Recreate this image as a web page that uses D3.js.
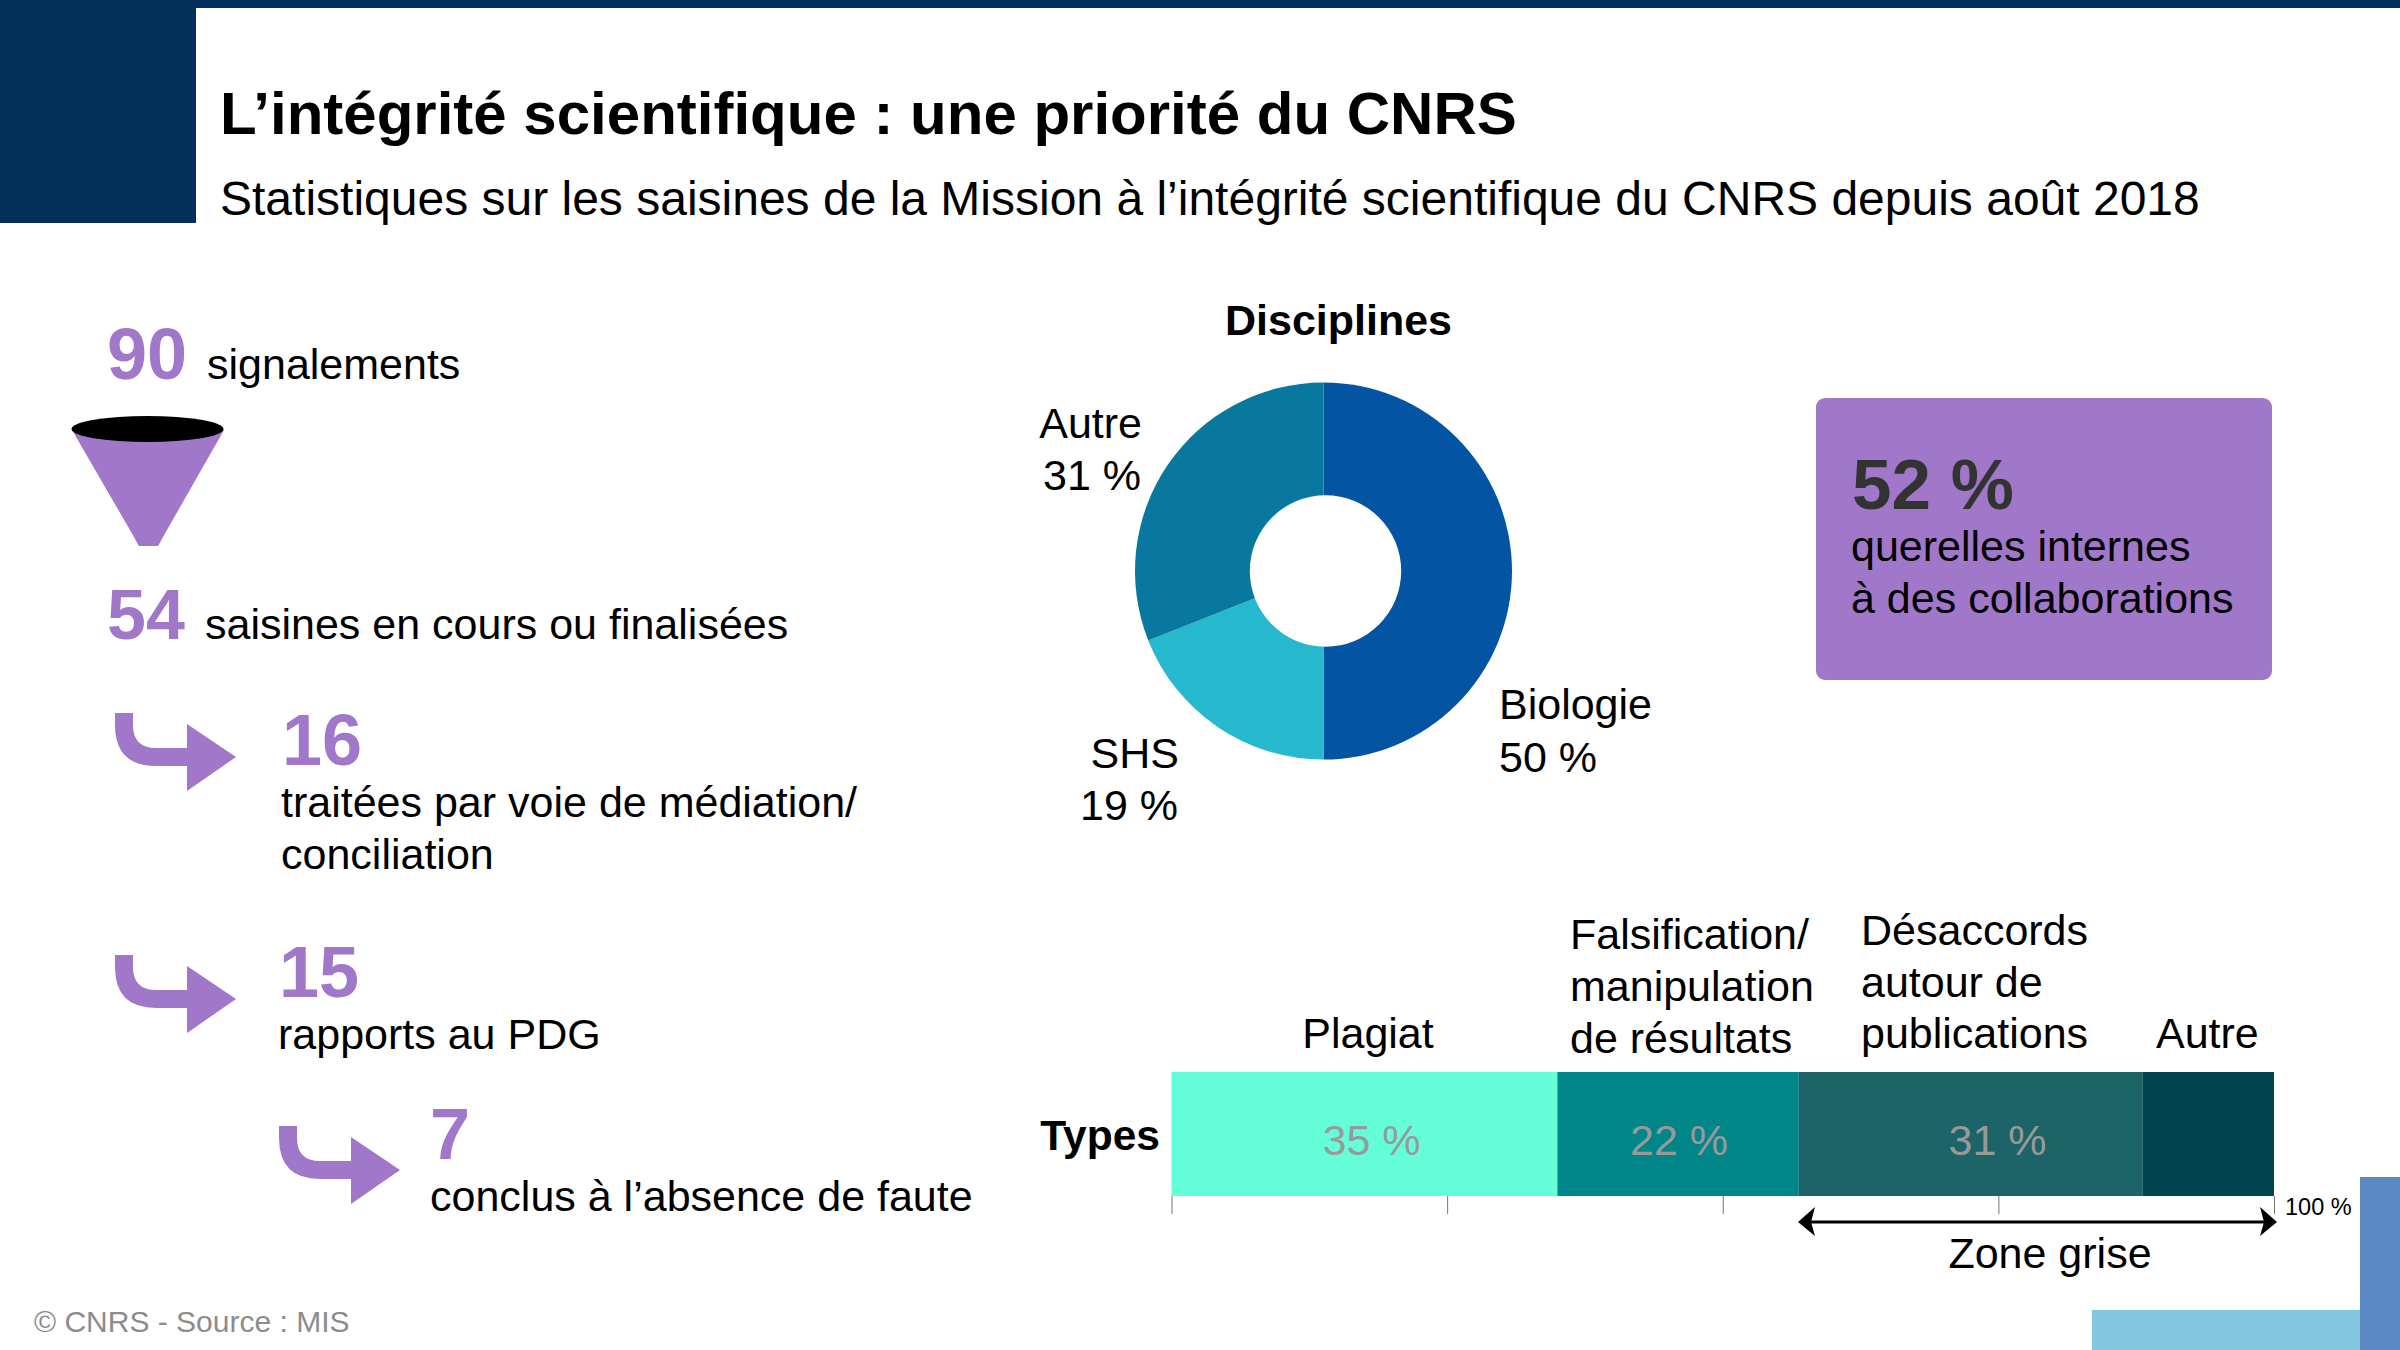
<!DOCTYPE html>
<html>
<head>
<meta charset="utf-8">
<script src="https://cdn.jsdelivr.net/npm/d3@7"></script>
<style>
  html, body { margin: 0; padding: 0; background: #fff; }
  text { font-family: "Liberation Sans", Arial, sans-serif; }
</style>
</head>
<body>
<div id="chart"></div>
<script>
const titleText = "L’intégrité scientifique : une priorité du CNRS";
const subtitleText = "Statistiques sur les saisines de la Mission à l’intégrité scientifique du CNRS depuis août 2018";
const sourceText = "© CNRS - Source : MIS";

const disciplineNames = ["Biologie", "SHS", "Autre"];
const disciplineValues = [50, 19, 31];
const disciplineColors = ["#0355a3", "#26b8cc", "#08789f"];

const typeNames = ["Plagiat", "Falsification", "Désaccords", "Autre"];
const typeValues = [35, 21.9, 31.2, 11.9];
const typeColors = ["#64ffd8", "#008588", "#1c6468", "#024450"];
const axisTicks = [0, 25, 50, 75, 100];

const purple = "#a077c9";
const navy = "#03305a";

const width = 2400, height = 1350;

const svg = d3.select("#chart").append("svg")
    .attr("width", width)
    .attr("height", height)
    .style("display", "block");

// writes one line of text
function put(str, x, y, size, opts) {
  opts = opts || {};
  return svg.append("text")
      .attr("x", x)
      .attr("y", y)
      .attr("font-size", size)
      .attr("font-weight", opts.bold ? "bold" : "normal")
      .attr("text-anchor", opts.anchor || "start")
      .attr("fill", opts.fill || "#000")
      .text(str);
}

// header
svg.append("rect").attr("x", 196).attr("y", 0).attr("width", 2204).attr("height", 8).attr("fill", navy);
svg.append("rect").attr("x", 0).attr("y", 0).attr("width", 196).attr("height", 223).attr("fill", navy);
put(titleText, 220, 134, 60, {bold: true});
put(subtitleText, 220, 215, 48);

// corner blocks
svg.append("rect").attr("x", 2092).attr("y", 1310).attr("width", 268).attr("height", 40).attr("fill", "#84c5e0");
svg.append("rect").attr("x", 2360).attr("y", 1177).attr("width", 40).attr("height", 173).attr("fill", "#5b89c4");

put(sourceText, 34, 1332, 30, {fill: "#8c8c8c"});

// funnel
svg.append("path")
    .attr("d", "M72,430 L224,430 L163,537 Q160,543 158,546 L139,546 Q137,543 134,537 Z")
    .attr("fill", purple);
svg.append("ellipse")
    .attr("cx", 147.5).attr("cy", 429).attr("rx", 76).attr("ry", 13)
    .attr("fill", "#000");

put("90", 107, 379, 72, {bold: true, fill: purple});
put("signalements", 207, 379, 43);
put("54", 107, 639, 70, {bold: true, fill: purple});
put("saisines en cours ou finalisées", 205, 639, 43);

// elbow arrows
const elbow = "M0,0 L18,0 L18,12 Q18,35 41,35 L72,35 L72,11 L121,44 L72,78 L72,53 L41,53 Q0,53 0,12 Z";
[[115, 713], [115, 955], [279, 1126]].forEach(function(p) {
  svg.append("path")
      .attr("transform", "translate(" + p[0] + "," + p[1] + ")")
      .attr("d", elbow)
      .attr("fill", purple);
});

put("16", 282, 765, 72, {bold: true, fill: purple});
put("traitées par voie de médiation/", 281, 817, 43);
put("conciliation", 281, 869, 43);
put("15", 279, 997, 72, {bold: true, fill: purple});
put("rapports au PDG", 278, 1049, 43);
put("7", 430, 1159, 72, {bold: true, fill: purple});
put("conclus à l’absence de faute", 430, 1211, 43);

// donut, the hole sits slightly right of the ring centre in the original
const pie = d3.pie().sort(null)(disciplineValues);
const arc = d3.arc().innerRadius(0).outerRadius(188.5);
svg.append("g")
    .attr("transform", "translate(1323.5,571)")
    .selectAll("path")
    .data(pie)
    .join("path")
    .attr("d", arc)
    .attr("fill", function(d, i) { return disciplineColors[i]; });
svg.append("circle").attr("cx", 1325.5).attr("cy", 571).attr("r", 75.7).attr("fill", "#fff");

put("Disciplines", 1338.5, 334.5, 43, {bold: true, anchor: "middle"});
put(disciplineNames[0], 1499, 719, 43);
put(disciplineValues[0] + " %", 1499, 771.5, 43);
put(disciplineNames[1], 1179, 767.5, 43, {anchor: "end"});
put(disciplineValues[1] + " %", 1178, 820, 43, {anchor: "end"});
put(disciplineNames[2], 1142, 437.5, 43, {anchor: "end"});
put(disciplineValues[2] + " %", 1141, 489.5, 43, {anchor: "end"});

// callout box
svg.append("rect")
    .attr("x", 1816).attr("y", 398).attr("width", 456).attr("height", 282)
    .attr("rx", 9)
    .attr("fill", purple);
put("52 %", 1852, 509, 71, {bold: true, fill: "#333"});
put("querelles internes", 1851, 561, 43);
put("à des collaborations", 1851, 613, 43);

// stacked bar
const x = d3.scaleLinear().domain([0, 100]).range([1171.5, 2274]);
let cum = 0;
const stacked = typeValues.map(function(v) {
  const s = {start: cum, end: cum + v, value: v};
  cum += v;
  return s;
});
svg.append("g")
    .selectAll("rect")
    .data(stacked)
    .join("rect")
    .attr("x", function(d) { return x(d.start); })
    .attr("y", 1072)
    .attr("width", function(d) { return x(d.end) - x(d.start); })
    .attr("height", 124)
    .attr("fill", function(d, i) { return typeColors[i]; });

const axis = d3.axisBottom(x).tickValues(axisTicks).tickSize(18).tickFormat("");
const axisG = svg.append("g").attr("transform", "translate(0,1196)").call(axis);
axisG.select(".domain").remove();
axisG.selectAll(".tick line").attr("stroke", "#777").attr("stroke-width", 1);

put("100 %", 2285, 1215, 23.5);

[1371.5, 1679, 1997.5].forEach(function(px, i) {
  put(Math.round(typeValues[i]) + " %", px, 1155, 43, {anchor: "middle", fill: "#999"});
});

put("Types", 1160, 1150, 42.5, {bold: true, anchor: "end"});
put(typeNames[0], 1368, 1048, 43, {anchor: "middle"});
put("Falsification/", 1570, 949, 43);
put("manipulation", 1570, 1001, 43);
put("de résultats", 1570, 1053, 43);
put(typeNames[2], 1861, 944.5, 43);
put("autour de", 1861, 996.5, 43);
put("publications", 1861, 1048, 43);
put(typeNames[3], 2156, 1048, 43);

// zone grise
svg.append("line")
    .attr("x1", 1804).attr("x2", 2271)
    .attr("y1", 1222).attr("y2", 1222)
    .attr("stroke", "#000").attr("stroke-width", 3);
svg.append("path").attr("d", "M1798,1222 L1815,1207 L1811,1222 L1815,1236 Z").attr("fill", "#000");
svg.append("path").attr("d", "M2277,1222 L2260,1207 L2264,1222 L2260,1236 Z").attr("fill", "#000");
put("Zone grise", 2050, 1268, 43, {anchor: "middle"});
</script>
</body>
</html>
